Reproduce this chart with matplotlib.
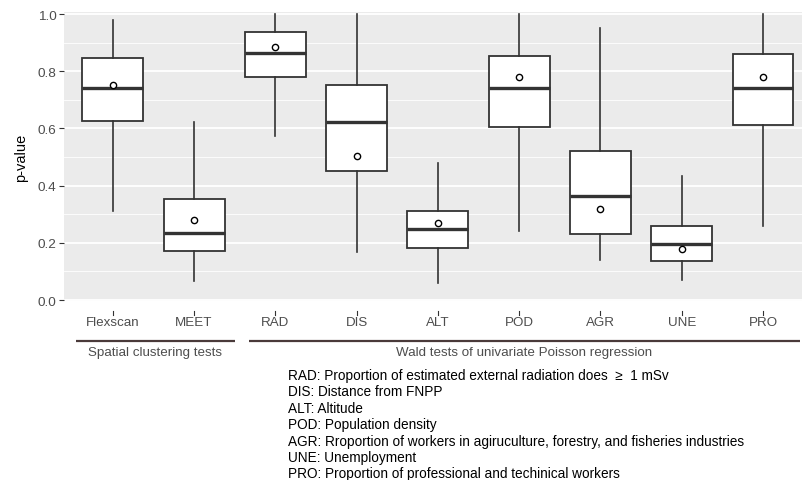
import numpy as np
import matplotlib
matplotlib.use("Agg")
import matplotlib.pyplot as plt
import matplotlib.transforms as mtransforms

plt.rcParams['font.family'] = ['Liberation Sans', 'DejaVu Sans']

# Box statistics
labels = ["Flexscan", "MEET", "RAD", "DIS", "ALT", "POD", "AGR", "UNE", "PRO"]
whislo = [0.311, 0.068, 0.572, 0.167, 0.058, 0.242, 0.140, 0.070, 0.260]
q1 = [0.626, 0.170, 0.781, 0.452, 0.183, 0.604, 0.231, 0.137, 0.612]
med = [0.741, 0.233, 0.862, 0.621, 0.248, 0.740, 0.363, 0.197, 0.740]
q3 = [0.845, 0.353, 0.936, 0.753, 0.311, 0.852, 0.520, 0.260, 0.859]
whishi = [0.980, 0.621, 1.000, 1.000, 0.478, 1.000, 0.950, 0.432, 1.000]
means = [0.751, 0.279, 0.883, 0.505, 0.270, 0.779, 0.317, 0.178, 0.779]

groups = ["Spatial clustering tests", "Wald tests of univariate Poisson regression"]
group_spans = [(0.55, 2.5), (2.67, 9.45)]

notes = [
    "RAD: Proportion of estimated external radiation does  \u2265  1 mSv",
    "DIS: Distance from FNPP",
    "ALT: Altitude",
    "POD: Population density",
    "AGR: Rroportion of workers in agiruculture, forestry, and fisheries industries",
    "UNE: Unemployment",
    "PRO: Proportion of professional and techinical workers",
]

W, H = 802, 481
fig = plt.figure(figsize=(W / 100, H / 100), dpi=100)
ax = fig.add_axes([64 / W, 1 - 302.3 / H, (802 - 64) / W, (302.3 - 13.3) / H])

stats = []
for i in range(len(labels)):
    stats.append(dict(label=labels[i], whislo=whislo[i], q1=q1[i], med=med[i],
                      q3=q3[i], whishi=whishi[i], mean=means[i], fliers=[]))

pos = np.arange(1, len(labels) + 1)
edge = "#333333"
ax.bxp(stats, positions=pos, widths=0.75, showmeans=True, showcaps=False,
       patch_artist=True,
       boxprops=dict(facecolor="white", edgecolor=edge, linewidth=1.3),
       whiskerprops=dict(color=edge, linewidth=1.2),
       medianprops=dict(color=edge, linewidth=2.4),
       meanprops=dict(marker="o", markerfacecolor="white", markeredgecolor="black",
                      markersize=4.5, markeredgewidth=1.0),
       zorder=3)

ax.set_facecolor("#EBEBEB")
ax.set_xlim(0.4, 9.48)
ax.set_ylim(-0.0045, 1.006)
ax.set_yticks([0.0, 0.2, 0.4, 0.6, 0.8, 1.0])
ax.set_yticklabels(["0.0", "0.2", "0.4", "0.6", "0.8", "1.0"])
ax.set_yticks([0.1, 0.3, 0.5, 0.7, 0.9], minor=True)
ax.grid(axis="y", which="major", color="white", linewidth=1.3, zorder=0)
ax.grid(axis="y", which="minor", color="white", linewidth=0.6, zorder=0)
ax.set_axisbelow(True)
for s in ax.spines.values():
    s.set_visible(False)
ax.tick_params(axis="y", which="major", length=3.5, width=0.8, color="#333333",
               labelsize=9.7, labelcolor="#4D4D4D", pad=2)
ax.tick_params(axis="y", which="minor", length=0)
ax.set_ylabel("p-value", fontsize=10.5, color="black", labelpad=7)

# x axis: ticks and labels sit a bit below the panel
ax.set_xticks([])
trans = mtransforms.blended_transform_factory(ax.transData, ax.transAxes)
ph = (302.3 - 13.3)
for p, lab in zip(pos, labels):
    ax.plot([p, p], [-(312 - 302.3) / ph, -(315.5 - 302.3) / ph], color="#333333",
            linewidth=0.8, transform=trans, clip_on=False)
    ax.text(p, -(317 - 302.3) / ph, lab, transform=trans, ha="center", va="top",
            fontsize=9.6, color="#4D4D4D")

# group brackets
for (x0, x1), g in zip(group_spans, groups):
    ax.plot([x0, x1], [-(341.5 - 302.3) / ph] * 2, color="#4a3a3a", linewidth=1.6,
            transform=trans, clip_on=False, solid_capstyle="butt")
    ax.text((x0 + x1) / 2, -(347 - 302.3) / ph, g, transform=trans, ha="center",
            va="top", fontsize=9.6, color="#4D4D4D")

# variable notes
for k, line in enumerate(notes):
    fig.text(288 / W, 1 - (376 + 16.4 * k) / H, line, ha="left", va="center",
             fontsize=9.8, color="black")

fig.savefig("out.png", dpi=100)
